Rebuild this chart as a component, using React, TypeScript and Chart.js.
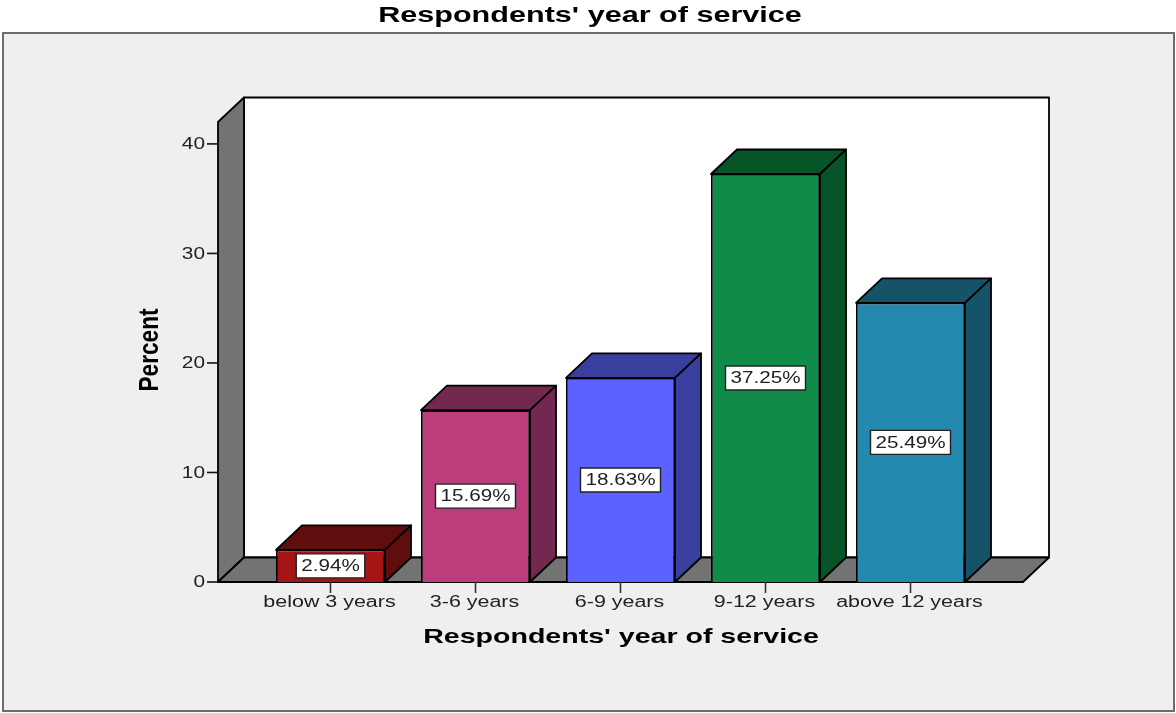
import React, { useEffect, useRef } from "react";
import { Chart, registerables } from "chart.js";

Chart.register(...registerables);

const categories = ["below 3 years", "3-6 years", "6-9 years", "9-12 years", "above 12 years"];
const percents = [2.94, 15.69, 18.63, 37.25, 25.49];
const frontColors = ["#a51515", "#bb3d7c", "#5b62ff", "#108c48", "#2389ae"];
const shadeColors = ["#5f0d0d", "#72284f", "#3a3e9e", "#075428", "#155468"];
const yTicks = [0, 10, 20, 30, 40];
const chartTitle = "Respondents' year of service";
const xTitle = "Respondents' year of service";
const yTitle = "Percent";

const DEPTH_X = 26;
const DEPTH_Y = 24.5;
const WALL_LEFT = 40; // how far the box extends beyond the first and last category slot
const WALL_GREY = "#737373";
const FONT = '"Liberation Sans", Arial, sans-serif';

function stretchedText(
  ctx: CanvasRenderingContext2D,
  text: string,
  x: number,
  y: number,
  font: string,
  color: string,
  align: CanvasTextAlign,
  stretch: number
) {
  ctx.save();
  ctx.translate(x, y);
  ctx.scale(stretch, 1);
  ctx.font = font;
  ctx.fillStyle = color;
  ctx.textAlign = align;
  ctx.textBaseline = "middle";
  ctx.fillText(text, 0, 0);
  ctx.restore();
}

function polygon(ctx: CanvasRenderingContext2D, pts: number[][], fill: string) {
  ctx.beginPath();
  pts.forEach(([x, y], i) => (i ? ctx.lineTo(x, y) : ctx.moveTo(x, y)));
  ctx.closePath();
  ctx.fillStyle = fill;
  ctx.fill();
  ctx.strokeStyle = "#000";
  ctx.lineWidth = 1.8;
  ctx.lineJoin = "round";
  ctx.stroke();
}

// Paints the page frame and the walls of the 3D box behind the bars.
const boxPlugin = {
  id: "box3d",
  beforeDraw(chart: any) {
    const { ctx, chartArea: a } = chart;
    ctx.save();
    ctx.fillStyle = "#fff";
    ctx.fillRect(0, 0, chart.width, chart.height);
    ctx.fillStyle = "#efefef";
    ctx.strokeStyle = "#6e6e6e";
    ctx.lineWidth = 2;
    ctx.fillRect(3, 33, 1171, 678);
    ctx.strokeRect(3, 33, 1171, 678);

    const l = a.left - WALL_LEFT;
    const r = a.right + WALL_LEFT;
    const t = a.top;
    const b = a.bottom;
    polygon(ctx, [[l + DEPTH_X, t - DEPTH_Y], [r + DEPTH_X, t - DEPTH_Y], [r + DEPTH_X, b - DEPTH_Y], [l + DEPTH_X, b - DEPTH_Y]], "#fff");
    polygon(ctx, [[l, t], [l + DEPTH_X, t - DEPTH_Y], [l + DEPTH_X, b - DEPTH_Y], [l, b]], WALL_GREY);
    polygon(ctx, [[l, b], [l + DEPTH_X, b - DEPTH_Y], [r + DEPTH_X, b - DEPTH_Y], [r, b]], WALL_GREY);

    // y axis ticks and numbers
    const y = chart.scales.y;
    ctx.strokeStyle = "#111";
    ctx.lineWidth = 1.6;
    yTicks.forEach((v) => {
      const py = y.getPixelForValue(v);
      ctx.beginPath();
      ctx.moveTo(l - 11, py);
      ctx.lineTo(l, py);
      ctx.stroke();
      stretchedText(ctx, String(v), l - 13, py + 1, `16px ${FONT}`, "#222", "right", 1.3);
    });

    // x axis ticks and category names
    const x = chart.scales.x;
    categories.forEach((c, i) => {
      const px = x.getPixelForValue(i);
      ctx.beginPath();
      ctx.moveTo(px, b);
      ctx.lineTo(px, b + 11);
      ctx.strokeStyle = "#333";
      ctx.stroke();
      stretchedText(ctx, c, px - 1, b + 20.5, `16px ${FONT}`, "#222", "center", 1.34);
    });

    // titles
    stretchedText(ctx, chartTitle, 590, 16, `bold 22px ${FONT}`, "#000", "center", 1.39);
    stretchedText(ctx, xTitle, 621, 637, `bold 21px ${FONT}`, "#000", "center", 1.36);
    ctx.translate(150, 350);
    ctx.rotate(-Math.PI / 2);
    ctx.scale(1.03, 1.27);
    ctx.font = `bold 22px ${FONT}`;
    ctx.fillStyle = "#000";
    ctx.textAlign = "center";
    ctx.textBaseline = "middle";
    ctx.fillText(yTitle, 0, 0);
    ctx.restore();
  },
  afterDatasetsDraw(chart: any) {
    const { ctx } = chart;
    const bars = chart.getDatasetMeta(0).data;
    ctx.save();
    bars.forEach((bar: any, i: number) => {
      const left = bar.x - bar.width / 2;
      const right = bar.x + bar.width / 2;
      // top and side faces of the block
      polygon(ctx, [[left, bar.y], [left + DEPTH_X, bar.y - DEPTH_Y], [right + DEPTH_X, bar.y - DEPTH_Y], [right, bar.y]], shadeColors[i]);
      polygon(ctx, [[right, bar.y], [right + DEPTH_X, bar.y - DEPTH_Y], [right + DEPTH_X, bar.base - DEPTH_Y], [right, bar.base]], shadeColors[i]);

      // value label in a white box at mid height
      const label = `${percents[i].toFixed(2)}%`;
      const midY = (bar.y + bar.base) / 2;
      ctx.font = `16px ${FONT}`;
      const w = ctx.measureText(label).width * 1.29 + 10;
      ctx.fillStyle = "#fff";
      ctx.strokeStyle = "#222";
      ctx.lineWidth = 1.4;
      ctx.fillRect(bar.x - w / 2, midY - 12, w, 24);
      ctx.strokeRect(bar.x - w / 2, midY - 12, w, 24);
      stretchedText(ctx, label, bar.x, midY + 1, `16px ${FONT}`, "#222", "center", 1.29);
    });
    ctx.restore();
  },
};

export default function App() {
  const ref = useRef<HTMLCanvasElement>(null);

  useEffect(() => {
    document.body.style.margin = "0";
    const chart = new Chart(ref.current!, {
      type: "bar",
      data: {
        labels: categories,
        datasets: [
          {
            data: percents,
            backgroundColor: frontColors,
            borderColor: "#000",
            borderWidth: 1.8,
            barPercentage: 0.752,
            categoryPercentage: 1,
          },
        ],
      },
      options: {
        responsive: false,
        animation: false,
        layout: { padding: { left: 250, right: 193, top: 122, bottom: 123 } },
        plugins: { legend: { display: false }, tooltip: { enabled: false }, title: { display: false } },
        scales: {
          x: {
            ticks: { display: false },
            grid: { display: false },
            border: { display: false },
          },
          y: {
            min: 0,
            max: 42,
            ticks: { display: false, stepSize: 10 },
            grid: { display: false },
            border: { display: false },
          },
        },
      },
      plugins: [boxPlugin],
    });
    return () => chart.destroy();
  }, []);

  return <canvas ref={ref} width={1176} height={713} style={{ display: "block" }} />;
}
